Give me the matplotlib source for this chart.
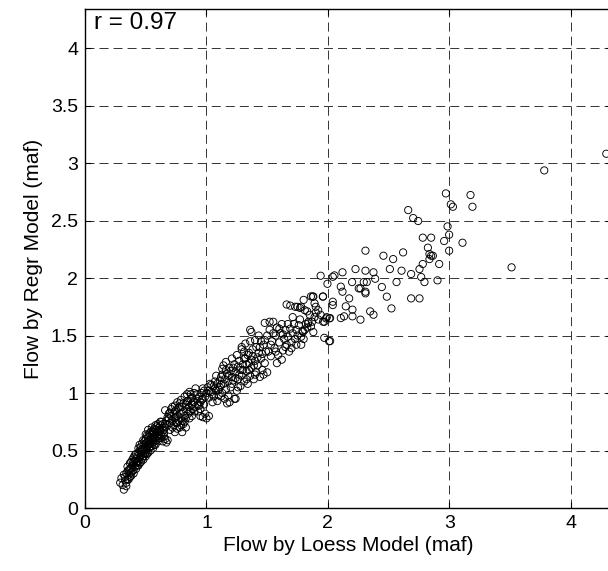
import matplotlib
matplotlib.use("Agg")
import matplotlib.pyplot as plt
import numpy as np

# (loess flow, regression flow) pairs in maf
low_band = [
    (0.29, 0.22), (0.32, 0.16), (0.31, 0.20), (0.33, 0.24), (0.34, 0.22), (0.33, 0.27),
    (0.35, 0.25), (0.36, 0.29), (0.34, 0.30), (0.37, 0.27), (0.36, 0.33), (0.38, 0.31),
    (0.38, 0.35), (0.40, 0.33), (0.39, 0.37), (0.41, 0.36), (0.40, 0.40), (0.42, 0.39),
    (0.43, 0.37), (0.42, 0.43), (0.44, 0.41), (0.43, 0.45), (0.45, 0.44), (0.44, 0.48),
    (0.46, 0.46), (0.47, 0.43), (0.45, 0.50), (0.47, 0.49), (0.48, 0.47), (0.46, 0.53),
    (0.48, 0.52), (0.49, 0.50), (0.50, 0.48), (0.47, 0.56), (0.49, 0.55), (0.50, 0.53),
    (0.51, 0.51), (0.49, 0.58), (0.51, 0.57), (0.52, 0.55), (0.53, 0.53), (0.50, 0.60),
    (0.52, 0.59), (0.53, 0.58), (0.54, 0.56), (0.51, 0.63), (0.53, 0.62), (0.54, 0.60),
    (0.55, 0.59), (0.56, 0.57), (0.53, 0.65), (0.55, 0.64), (0.56, 0.62), (0.57, 0.60),
    (0.55, 0.67), (0.57, 0.66), (0.58, 0.64), (0.59, 0.62), (0.57, 0.69), (0.59, 0.68),
    (0.60, 0.66), (0.61, 0.64), (0.59, 0.71), (0.61, 0.70), (0.62, 0.68), (0.63, 0.66),
    (0.60, 0.73), (0.62, 0.72), (0.64, 0.70), (0.65, 0.68), (0.63, 0.75), (0.66, 0.73),
    (0.58, 0.55), (0.60, 0.58), (0.62, 0.61), (0.65, 0.62), (0.67, 0.57), (0.66, 0.60),
    (0.44, 0.52), (0.41, 0.46), (0.39, 0.42), (0.37, 0.39), (0.48, 0.59), (0.52, 0.68),
    (0.55, 0.70), (0.58, 0.72), (0.35, 0.36), (0.56, 0.52), (0.54, 0.50), (0.52, 0.48),
    (0.50, 0.45), (0.48, 0.42), (0.46, 0.40), (0.44, 0.37), (0.42, 0.34), (0.40, 0.30),
    (0.38, 0.28), (0.36, 0.25), (0.34, 0.19),
    (0.30, 0.26), (0.32, 0.29), (0.35, 0.32), (0.37, 0.34), (0.39, 0.32), (0.41, 0.41),
    (0.43, 0.40), (0.45, 0.39), (0.46, 0.49), (0.48, 0.45), (0.50, 0.56), (0.51, 0.47),
    (0.52, 0.62), (0.54, 0.53), (0.56, 0.66), (0.57, 0.55), (0.58, 0.68), (0.59, 0.59),
    (0.61, 0.61), (0.62, 0.75), (0.63, 0.63), (0.64, 0.73), (0.65, 0.65), (0.66, 0.70),
    (0.47, 0.51), (0.49, 0.47), (0.53, 0.56), (0.55, 0.54), (0.56, 0.60), (0.58, 0.61),
    (0.60, 0.63), (0.61, 0.67), (0.42, 0.47), (0.40, 0.44), (0.38, 0.40), (0.45, 0.55),
    (0.50, 0.64), (0.54, 0.66), (0.68, 0.59), (0.64, 0.58),
]

mid_band = [
    (0.67, 0.76), (0.68, 0.72), (0.69, 0.78), (0.70, 0.74), (0.71, 0.80), (0.72, 0.76),
    (0.73, 0.72), (0.73, 0.82), (0.74, 0.78), (0.75, 0.74), (0.75, 0.85), (0.76, 0.80),
    (0.77, 0.76), (0.77, 0.87), (0.78, 0.82), (0.79, 0.78), (0.79, 0.72), (0.80, 0.88),
    (0.81, 0.84), (0.82, 0.80), (0.82, 0.75), (0.83, 0.90), (0.84, 0.86), (0.85, 0.82),
    (0.85, 0.93), (0.86, 0.88), (0.87, 0.84), (0.88, 0.96), (0.88, 0.90), (0.89, 0.86),
    (0.90, 1.00), (0.90, 0.92), (0.91, 0.88), (0.92, 0.95), (0.93, 0.90), (0.94, 0.97),
    (0.95, 0.92), (0.96, 1.00), (0.97, 0.95), (0.98, 1.02), (0.99, 0.97), (0.71, 0.86),
    (0.74, 0.89), (0.76, 0.92), (0.79, 0.94), (0.82, 0.97), (0.84, 0.99), (0.86, 1.01),
    (0.91, 1.04), (0.95, 0.80), (0.97, 0.79), (1.00, 0.78), (1.02, 0.80), (0.99, 0.82),
    (0.76, 0.69), (0.74, 0.66), (0.78, 0.70), (0.70, 0.68), (0.66, 0.85), (0.69, 0.82),
    (0.88, 0.80), (0.86, 0.78), (0.93, 0.84), (0.95, 0.86), (0.80, 0.66), (0.83, 0.70),
    (0.68, 0.79), (0.70, 0.83), (0.72, 0.70), (0.74, 0.84), (0.76, 0.74), (0.78, 0.88),
    (0.80, 0.76), (0.81, 0.91), (0.83, 0.78), (0.84, 0.93), (0.86, 0.84), (0.87, 0.95),
    (0.89, 0.92), (0.90, 0.84), (0.92, 0.99), (0.94, 0.89), (0.96, 0.94), (0.97, 1.04),
    (0.98, 0.90), (0.72, 0.88), (0.75, 0.79), (0.78, 0.91), (0.81, 0.73), (0.87, 0.99),
]

upper_band = [
    (1.00, 1.00), (1.01, 1.05), (1.02, 0.96), (1.03, 1.08), (1.04, 1.01), (1.05, 0.92),
    (1.06, 0.97), (1.06, 1.06), (1.07, 1.10), (1.08, 1.02), (1.09, 0.93), (1.10, 0.98),
    (1.11, 1.11), (1.11, 1.05), (1.12, 1.14), (1.13, 1.00), (1.14, 1.08), (1.15, 0.95),
    (1.16, 1.03), (1.17, 0.91), (1.17, 1.17), (1.18, 1.10), (1.19, 0.92), (1.19, 1.22),
    (1.20, 1.05), (1.21, 1.14), (1.22, 1.11), (1.23, 0.95), (1.23, 1.25), (1.24, 1.18),
    (1.25, 1.02), (1.26, 1.12), (1.27, 1.28), (1.28, 1.20), (1.28, 1.06), (1.29, 1.15),
    (1.30, 1.25), (1.31, 1.10), (1.32, 1.30), (1.33, 1.19), (1.34, 1.08), (1.35, 1.26),
    (1.35, 1.35), (1.36, 1.15), (1.37, 1.22), (1.38, 1.32), (1.39, 1.12), (1.40, 1.28),
    (1.41, 1.40), (1.41, 1.18), (1.42, 1.24), (1.43, 1.35), (1.44, 1.14), (1.45, 1.30),
    (1.46, 1.20), (1.47, 1.42), (1.47, 1.16), (1.48, 1.26), (1.49, 1.36), (1.50, 1.18),
    (1.14, 1.24), (1.16, 1.27), (1.13, 1.21), (1.08, 1.15), (1.21, 1.30), (1.25, 1.33),
    (1.29, 1.38), (1.32, 1.43), (1.36, 1.45), (1.37, 1.53), (1.36, 1.55), (1.40, 1.46),
    (1.43, 1.50), (1.45, 1.45), (1.48, 1.61), (1.29, 1.40), (1.31, 1.36), (1.24, 0.95),
    (1.02, 1.02), (1.04, 1.07), (1.05, 0.99), (1.07, 1.04), (1.09, 1.08), (1.10, 1.03),
    (1.12, 1.07), (1.13, 1.16), (1.15, 1.12), (1.16, 1.20), (1.18, 1.15), (1.20, 1.19),
    (1.21, 1.08), (1.22, 1.22), (1.24, 1.13), (1.26, 1.23), (1.27, 1.16), (1.30, 1.20),
    (1.31, 1.30), (1.33, 1.25), (1.34, 1.33), (1.35, 1.20), (1.37, 1.29), (1.38, 1.38),
    (1.39, 1.24), (1.42, 1.31), (1.44, 1.40), (1.46, 1.34), (1.48, 1.46), (1.12, 0.97),
    (1.18, 0.98), (1.26, 1.05), (1.33, 1.12), (1.40, 1.16),
]

high_band = [
    (1.50, 1.50), (1.51, 1.36), (1.52, 1.55), (1.53, 1.32), (1.54, 1.45), (1.55, 1.62),
    (1.56, 1.39), (1.57, 1.50), (1.58, 1.57), (1.58, 1.26), (1.59, 1.33), (1.60, 1.44),
    (1.61, 1.52), (1.62, 1.29), (1.62, 1.60), (1.63, 1.37), (1.64, 1.47), (1.65, 1.55),
    (1.66, 1.42), (1.67, 1.49), (1.68, 1.36), (1.69, 1.56), (1.70, 1.44), (1.70, 1.39),
    (1.71, 1.52), (1.72, 1.60), (1.73, 1.47), (1.74, 1.55), (1.75, 1.50), (1.76, 1.59),
    (1.78, 1.49), (1.78, 1.42), (1.79, 1.54), (1.81, 1.55), (1.81, 1.72), (1.82, 1.60),
    (1.84, 1.62), (1.86, 1.58), (1.88, 1.53), (1.89, 1.66), (1.90, 1.70), (1.92, 1.64),
    (1.94, 1.68), (1.96, 1.62), (1.97, 1.48), (1.99, 1.66), (2.01, 1.45), (1.66, 1.77),
    (1.69, 1.76), (1.73, 1.75), (1.75, 1.75), (1.77, 1.74), (1.80, 1.81), (1.78, 1.75),
    (1.83, 1.71), (1.89, 1.78), (1.90, 1.75), (1.94, 2.02), (1.96, 1.84), (1.86, 1.84),
    (1.88, 1.84), (1.52, 1.62), (1.996, 1.95), (1.875, 1.838), (1.958, 1.838),
    (1.971, 1.62), (1.985, 1.649), (2.012, 1.649), (1.837, 1.606), (1.796, 1.533),
    (1.53, 1.42), (1.55, 1.52), (1.57, 1.36), (1.60, 1.56), (1.63, 1.51), (1.65, 1.40),
    (1.67, 1.60), (1.71, 1.66), (1.74, 1.42), (1.77, 1.64), (1.80, 1.47), (1.83, 1.57),
    (1.85, 1.68), (1.87, 1.62), (1.92, 1.72),
]

tail = [
    (2.971, 2.736), (3.174, 2.722), (3.012, 2.641), (3.029, 2.620), (3.190, 2.620),
    (2.661, 2.591), (2.702, 2.522), (2.743, 2.496), (2.985, 2.449), (2.998, 2.377),
    (2.957, 2.322), (3.108, 2.307), (2.998, 2.238), (2.781, 2.351), (2.850, 2.351),
    (2.823, 2.264), (2.836, 2.209), (2.864, 2.194), (2.850, 2.194), (2.836, 2.165),
    (2.781, 2.122), (2.754, 2.078), (2.916, 2.122), (3.512, 2.093), (2.619, 2.223),
    (2.537, 2.165), (2.457, 2.194), (2.309, 2.238), (2.510, 2.078), (2.606, 2.064),
    (2.685, 2.035), (2.768, 2.009), (2.795, 1.965), (2.902, 1.980), (2.565, 1.965),
    (2.685, 1.823), (2.754, 1.823), (2.444, 1.922), (2.485, 1.838), (2.523, 1.736),
    (2.348, 1.710), (2.375, 1.681), (2.375, 2.050), (2.389, 1.994), (2.309, 2.064),
    (2.227, 2.078), (2.120, 2.050), (2.054, 2.023), (2.040, 2.011), (2.199, 1.965),
    (2.254, 1.910), (2.268, 1.910), (2.295, 1.965), (2.320, 1.965), (2.309, 1.881),
    (2.309, 1.867), (2.106, 1.925), (2.120, 1.881), (2.175, 1.823), (2.147, 1.754),
    (2.202, 1.725), (2.202, 1.667), (2.133, 1.667), (2.106, 1.652), (2.268, 1.638),
    (2.040, 1.794), (2.040, 1.765), (2.018, 1.652), (2.018, 1.452), (3.781, 2.936),
    (4.292, 3.081),
]

x_ticks = [0, 1, 2, 3, 4]
y_ticks = [0, 0.5, 1, 1.5, 2, 2.5, 3, 3.5, 4]
r_text = "r = 0.97"

plt.rcParams['font.family'] = ['Liberation Sans', 'DejaVu Sans']
plt.rcParams['lines.scale_dashes'] = False

pts = np.array(low_band + mid_band + upper_band + high_band + tail)

fig = plt.figure(figsize=(6.08, 5.71), dpi=100)
ax = fig.add_axes([0.1398, 0.1103, 0.867, 0.874])

ax.scatter(pts[:, 0], pts[:, 1], s=27, facecolors='none', edgecolors='black',
           linewidths=0.65, zorder=3, clip_on=False)

ax.set_xlim(0, 4.34)
ax.set_ylim(0, 4.34)
ax.set_xticks(x_ticks)
ax.set_xticklabels([str(t) for t in x_ticks])
ax.set_yticks(y_ticks)
ax.set_yticklabels(['0', '0.5', '1', '1.5', '2', '2.5', '3', '3.5', '4'])
ax.grid(True, color='0.2', linestyle=(0, (6.5, 3.6)), linewidth=0.7)
ax.tick_params(direction='in', length=4, width=0.8, labelsize=14,
               top=True, right=True, pad=5)
for side in ['left', 'bottom', 'top', 'right']:
    ax.spines[side].set_linewidth(1.0)

ax.set_xlabel('Flow by Loess Model (maf)', fontsize=15, labelpad=3)
ax.set_ylabel('Flow by Regr Model (maf)', fontsize=15, labelpad=6)
ax.text(0.07, 4.31, r_text, fontsize=17.5, va='top', ha='left')

fig.savefig('out.png', dpi=100)
